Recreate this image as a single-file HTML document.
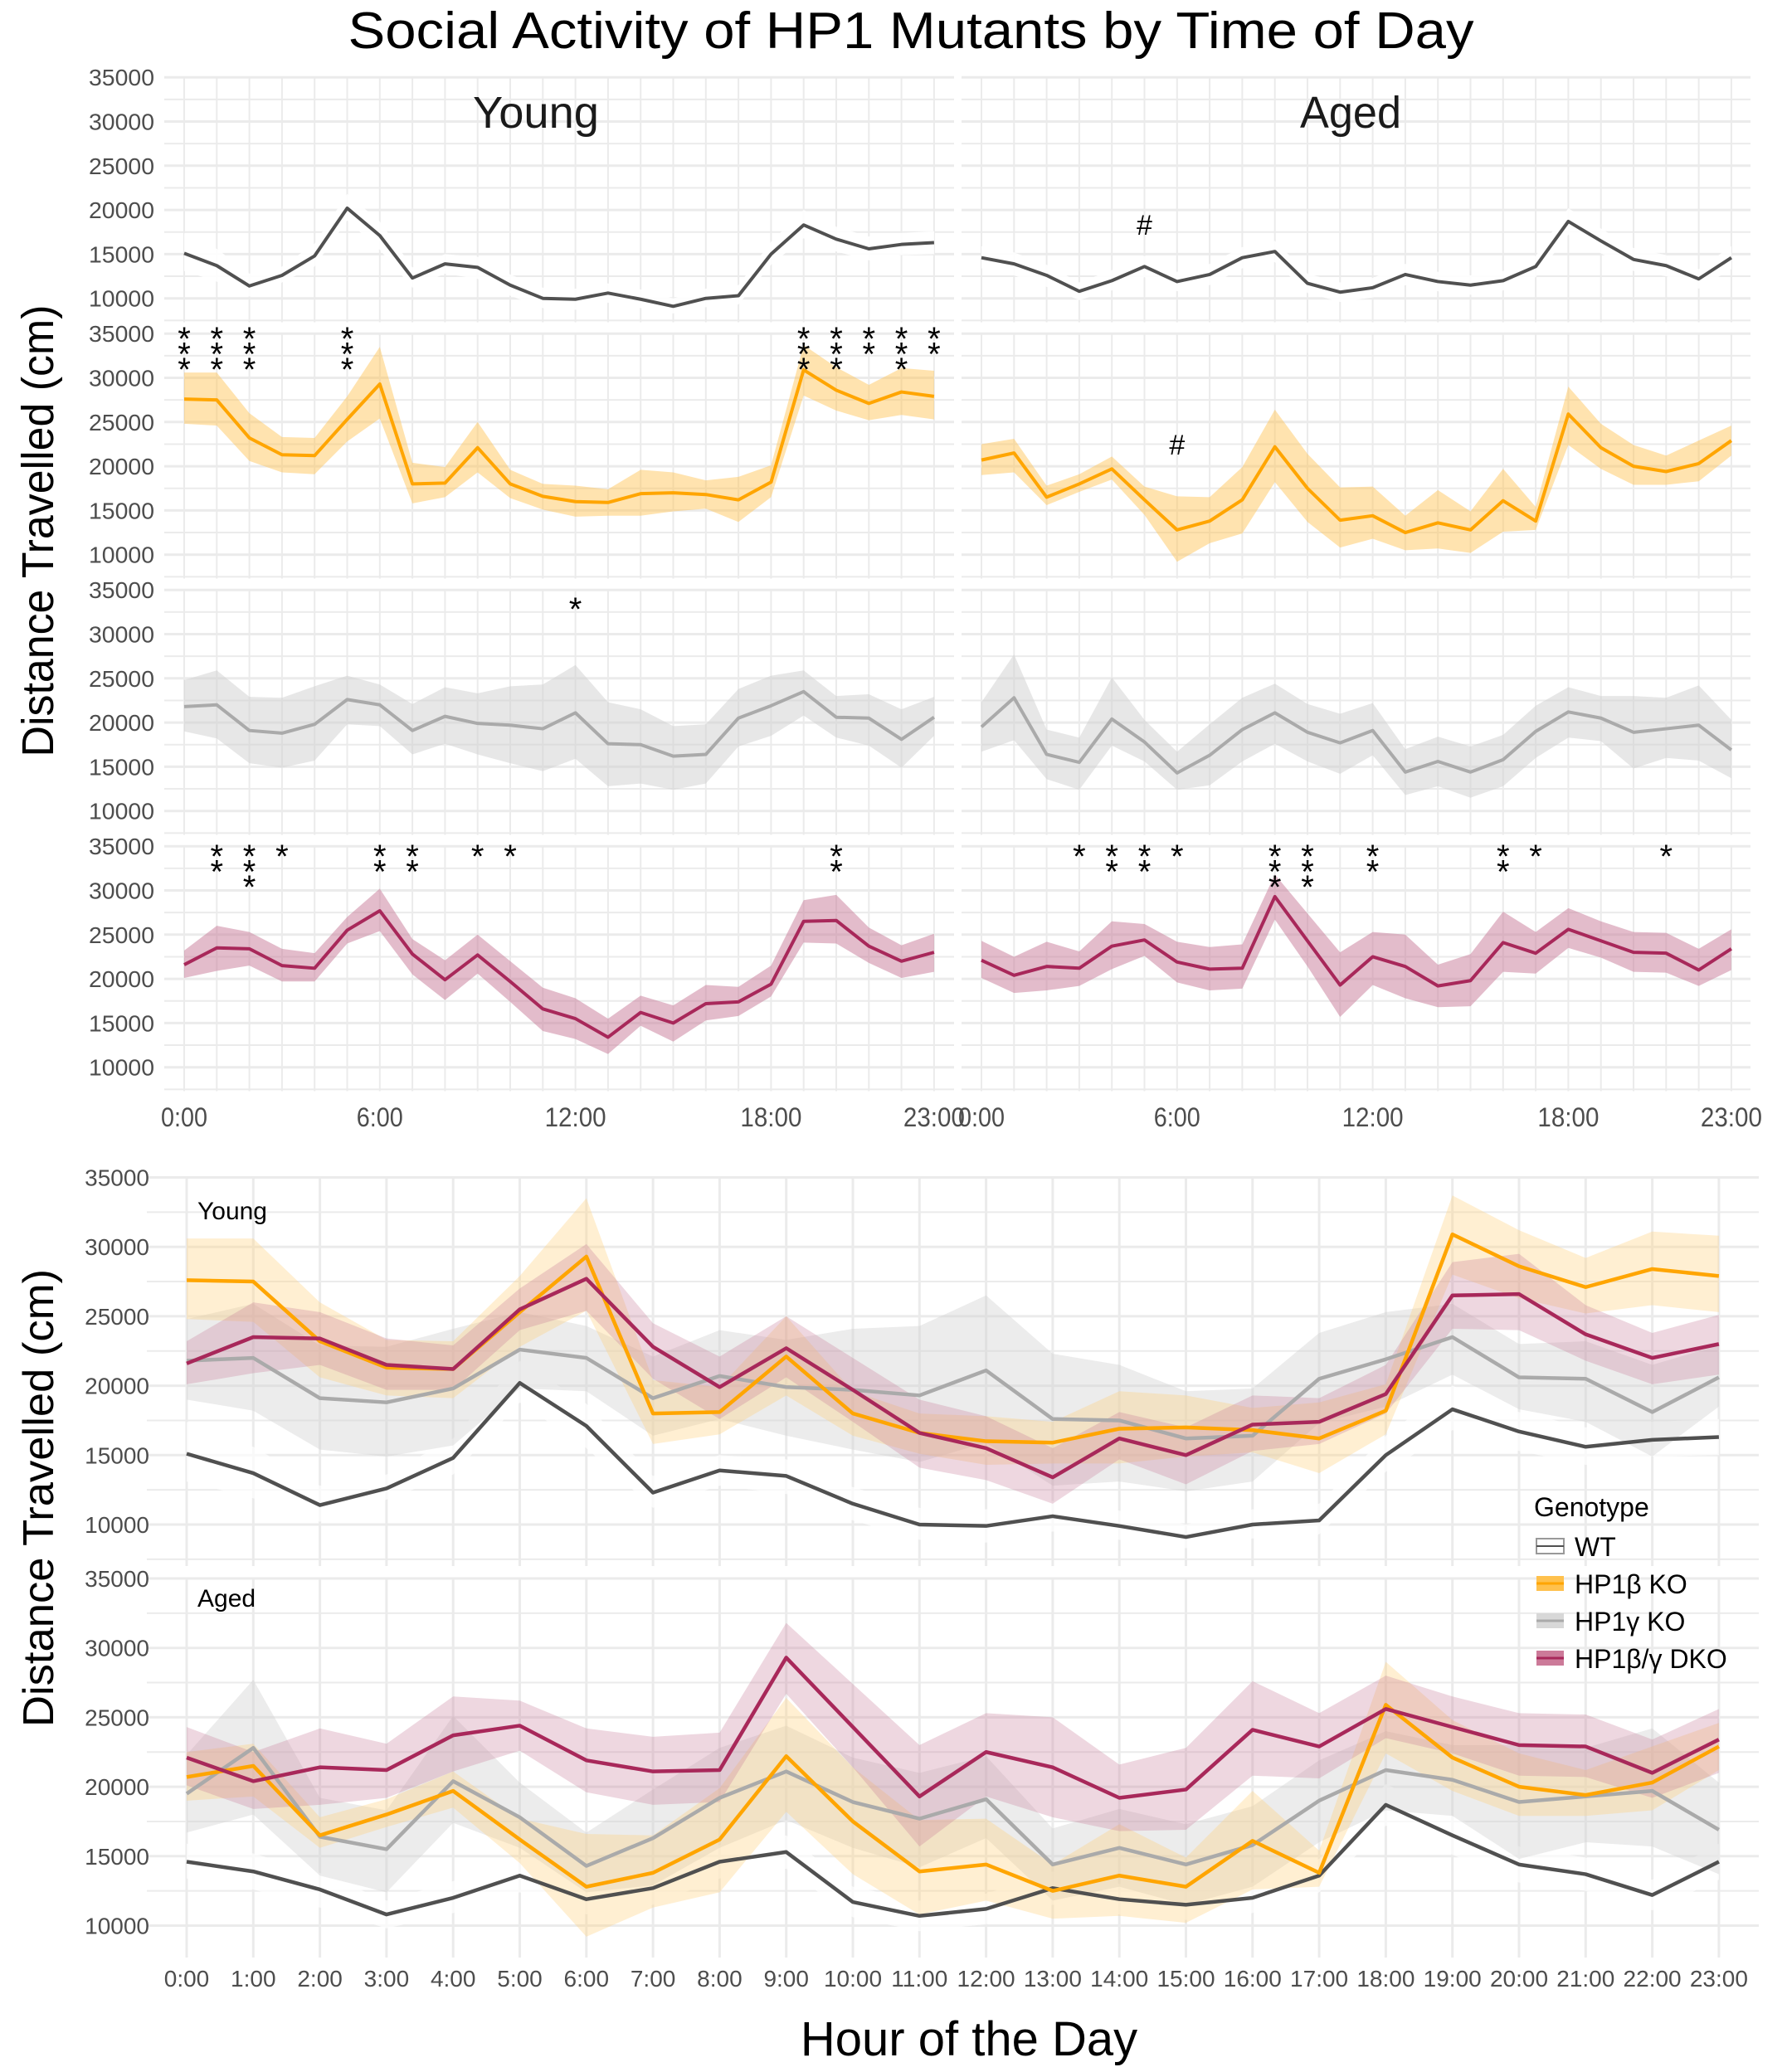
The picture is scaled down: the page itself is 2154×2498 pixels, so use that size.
<!DOCTYPE html>
<html><head><meta charset="utf-8"><style>
html,body{margin:0;padding:0;background:#fff}
svg{display:block}
text{font-family:"Liberation Sans",sans-serif}
</style></head><body>
<svg id="chart" width="2154" height="2498" viewBox="0 0 2154 2498" xmlns="http://www.w3.org/2000/svg">
<rect width="2154" height="2498" fill="#fff"/>
<text x="1098" y="58" font-size="62" text-anchor="middle" textLength="1357" lengthAdjust="spacingAndGlyphs" fill="#000">Social Activity of HP1 Mutants by Time of Day</text>
<g id="top"></g>
<g id="bottom"></g>
<text transform="translate(64,640) rotate(-90)" font-size="54" text-anchor="middle" textLength="545" lengthAdjust="spacingAndGlyphs">Distance Travelled (cm)</text>
<text transform="translate(64,1806) rotate(-90)" font-size="52" text-anchor="middle" textLength="552" lengthAdjust="spacingAndGlyphs">Distance Travelled (cm)</text>
<text x="1168" y="2478" font-size="58" text-anchor="middle">Hour of the Day</text>
<g>
<text x="1849" y="1828" font-size="32">Genotype</text>
<g><rect x="1852" y="1855" width="33" height="18" fill="#fff" stroke="#999" stroke-width="2"/><line x1="1852" y1="1864" x2="1885" y2="1864" stroke="#505050" stroke-width="2"/><text x="1898" y="1876" font-size="32">WT</text></g>
<g><rect x="1852" y="1900" width="33" height="18" fill="#FFC14D"/><line x1="1852" y1="1909" x2="1885" y2="1909" stroke="#FFA500" stroke-width="3"/><text x="1898" y="1921" font-size="32">HP1β KO</text></g>
<g><rect x="1852" y="1945" width="33" height="18" fill="#d8d8d8"/><line x1="1852" y1="1954" x2="1885" y2="1954" stroke="#aaa" stroke-width="3"/><text x="1898" y="1966" font-size="32">HP1γ KO</text></g>
<g><rect x="1852" y="1990" width="33" height="18" fill="#cc7a99"/><line x1="1852" y1="1999" x2="1885" y2="1999" stroke="#A8285A" stroke-width="3"/><text x="1898" y="2011" font-size="32">HP1β/γ DKO</text></g>
</g>
</svg>
<script>
const hours = [0,1,2,3,4,5,6,7,8,9,10,11,12,13,14,15,16,17,18,19,20,21,22,23];
const yTicks = [10000,15000,20000,25000,30000,35000];
const topXTicks = [0,6,12,18,23];
const bottomXLabels = ["0:00","1:00","2:00","3:00","4:00","5:00","6:00","7:00","8:00","9:00","10:00","11:00","12:00","13:00","14:00","15:00","16:00","17:00","18:00","19:00","20:00","21:00","22:00","23:00"];
// Young
const youngWT = [15100,13700,11400,12600,14800,20200,17100,12300,13900,13500,11500,10000,9900,10600,9900,9100,10000,10300,15000,18300,16700,15600,16100,16300];
const youngWTLo = [13100,11900,10200,11800,13600,18800,15500,11200,12800,12200,10300,8900,8700,9500,8900,8300,9000,9300,13800,16800,15300,14300,14900,15000];
const youngWTHi = [17400,15600,12800,13600,16200,21800,18700,13500,15000,14700,12700,11200,11100,11700,11000,10000,11100,11500,16400,20000,18100,17000,17400,17600];
const youngB = [27600,27500,23200,21300,21200,25300,29300,18000,18100,22100,18000,16600,16000,15900,16900,17000,16800,16200,18200,30900,28600,27100,28400,27900];
const youngBLo = [24800,24600,20600,19300,19100,22800,25400,15800,16500,19300,16400,15100,14300,14400,14400,14900,15200,13700,16500,28000,26300,25200,25800,25300];
const youngBHi = [30600,30600,26000,23300,23200,27900,33500,20400,19900,25000,19600,18000,17800,17400,19600,19300,18400,18800,20100,33700,31200,29200,31100,30800];
const youngG = [21800,22000,19100,18800,19800,22600,22000,19100,20700,19900,19700,19300,21100,17600,17500,16200,16400,20500,21900,23500,20600,20500,18100,20600];
const youngGLo = [19000,18200,15400,14900,15700,19800,19600,16400,17600,16400,15400,14500,15900,12800,13100,12400,13100,17300,18500,20800,18300,17400,14900,18500];
const youngGHi = [24800,25900,22900,22800,24100,25300,24300,22100,24000,23300,24100,24300,26500,22300,21500,19600,19800,23800,25300,25900,23000,23200,21500,22900];
const youngD = [21600,23500,23400,21500,21200,25500,27700,22800,19900,22700,19700,16600,15500,13400,16200,15000,17200,17400,19400,26500,26600,23700,22000,23000];
const youngDLo = [20100,20900,21500,19700,19700,24000,25400,20500,17600,20600,17400,14100,13200,11500,14700,12900,15300,15800,18000,24100,24000,21800,20100,20800];
const youngDHi = [23200,26000,25300,23400,22900,27000,30200,24500,22100,25000,22000,19000,17800,15500,18100,17000,19300,19100,21500,28900,29500,25800,23800,25100];
// Aged
const agedWT = [14600,13900,12600,10800,12000,13600,11900,12700,14600,15300,11700,10700,11200,12700,11900,11500,12000,13600,18700,16500,14400,13700,12200,14600];
const agedWTLo = [13400,12600,11300,9800,10900,12400,10800,11500,13400,14100,10600,9600,10100,11500,10800,10400,10900,12400,17200,15100,13100,12500,11100,13300];
const agedWTHi = [15900,15200,13800,11800,13200,14800,13000,13900,15800,16500,12800,11800,12300,13900,13000,12600,13100,14800,20200,17900,15700,14900,13300,15900];
const agedB = [20700,21500,16500,18000,19700,16200,12800,13800,16200,22200,17500,13900,14400,12500,13600,12800,16100,13800,25900,22100,20000,19400,20300,22900];
const agedBLo = [19000,19300,15600,17100,18500,14500,9200,11300,12400,18200,13700,10800,11800,10500,10700,10200,12600,12800,22400,19700,17900,17900,18300,21200];
const agedBHi = [22500,23100,17800,19100,21100,17700,16600,16500,19900,26400,21400,17600,17700,14400,17300,14900,19700,15400,29000,24800,22400,21200,22900,24600];
const agedG = [19500,22800,16400,15500,20400,17800,14300,16300,19200,21100,18900,17700,19100,14400,15600,14400,15800,19000,21200,20500,18900,19300,19700,16900];
const agedGLo = [16700,18000,13600,12400,17400,15600,12400,12900,15600,17600,15600,14200,16300,11800,12800,11500,12800,16000,18300,17900,14800,16000,15700,13700];
const agedGHi = [22300,27700,19200,18300,25100,20300,16700,19800,22800,24400,22100,21000,22200,17000,18400,17300,18600,21900,24000,23000,23000,22800,24200,20300];
const agedD = [22100,20400,21400,21200,23700,24400,21900,21100,21200,29300,24300,19300,22500,21400,19200,19800,24100,22900,25600,24300,23000,22900,21000,23400];
const agedDLo = [20100,18400,18700,19200,21100,22600,19600,18700,18900,26700,21400,15700,19300,17800,16800,16900,20800,20600,23500,22400,20800,20700,19200,21000];
const agedDHi = [24300,22500,24200,23100,26500,26200,24200,23600,23900,31800,27400,23000,25300,25000,21600,22800,27600,25300,28000,26500,25300,25200,23400,25600];
// significance marks (count of symbols per hour)
const youngBStars = [3,3,3,0,0,3,0,0,0,0,0,0,0,0,0,0,0,0,0,3,3,2,3,2];
const youngGStars = [0,0,0,0,0,0,0,0,0,0,0,0,1,0,0,0,0,0,0,0,0,0,0,0];
const youngDStars = [0,2,3,1,0,0,2,2,0,1,1,0,0,0,0,0,0,0,0,0,2,0,0,0];
const agedDStars = [0,0,0,1,2,2,1,0,0,3,3,0,2,0,0,0,2,1,0,0,0,1,0,0];
const agedWTHash = [0,0,0,0,0,1,0,0,0,0,0,0,0,0,0,0,0,0,0,0,0,0,0,0];
const agedBHash = [0,0,0,0,0,0,1,0,0,0,0,0,0,0,0,0,0,0,0,0,0,0,0,0];

const NS='http://www.w3.org/2000/svg';
function mk(tag,attrs,parent){const e=document.createElementNS(NS,tag);for(const k in attrs)e.setAttribute(k,attrs[k]);parent.appendChild(e);return e;}

const series = {
 young:[[youngWT,youngWTLo,youngWTHi],[youngB,youngBLo,youngBHi],[youngG,youngGLo,youngGHi],[youngD,youngDLo,youngDHi]],
 aged:[[agedWT,agedWTLo,agedWTHi],[agedB,agedBLo,agedBHi],[agedG,agedGLo,agedGHi],[agedD,agedDLo,agedDHi]]
};
const names=['wt','hp1b-ko','hp1g-ko','hp1bg-dko'];
const lineCol=['#505050','#FFA500','#AAAAAA','#A8285A'];
const fillTop=['#ffffff','#FFC14D','#d0d0d0','#c77a98'];
const fillTopOp=[0.9,0.45,0.5,0.5];
const fillBot=['#ffffff','#FFD27F','#d0d0d0','#c77a98'];
const fillBotOp=[0.7,0.35,0.4,0.3];

function ribbon(g,xf,yf,lo,hi,fill,op,name){
 let d='';
 hours.forEach((h,i)=>{d+=(i?'L':'M')+xf(h)+','+yf(hi[i]);});
 for(let i=hours.length-1;i>=0;i--)d+='L'+xf(hours[i])+','+yf(lo[i]);
 const p=mk('path',{d:d+'Z',fill:fill,'fill-opacity':op},g);
 
 
}
function line(g,xf,yf,v,col,w,name){
 const pts=hours.map((h,i)=>xf(h)+','+yf(v[i])).join(' ');
 const p=mk('polyline',{points:pts,fill:'none',stroke:col,'stroke-width':w,'stroke-linejoin':'round'},g);
 
 
}

// ---------- top facets ----------
const topG=document.getElementById('top');
const facetX0={young:222,aged:1183};
const facetGrid={young:[198,1150],aged:[1159,2110]};
const hourW=39.3;
const rowTop=[93.2,402.2,711.2,1020.2];
const pxPer=53.3/5000;
['young','aged'].forEach(age=>{
 const xf=h=>facetX0[age]+h*hourW;
 for(let r=0;r<4;r++){
  const g=mk('g',{},topG);
  
  
  const yf=v=>rowTop[r]+(35000-v)*pxPer;
  const gb=yf(7300);
  for(let v=7500;v<=35000;v+=2500){
   mk('line',{x1:facetGrid[age][0],x2:facetGrid[age][1],y1:yf(v),y2:yf(v),stroke:'#ebebeb','stroke-width':v%5000===0?3:2},g);
  }
  hours.forEach(h=>mk('line',{x1:xf(h),x2:xf(h),y1:yf(35000),y2:gb,stroke:'#ebebeb','stroke-width':2},g));
  if(age==='young'){
   yTicks.forEach(t=>{
    const tx=mk('text',{x:186,y:yf(t)+10,'font-size':28,'text-anchor':'end',fill:'#4d4d4d',textLength:79,lengthAdjust:'spacingAndGlyphs'},g);
    tx.textContent=t;
    
    
   });
  }
  const s=series[age][r];
  ribbon(g,xf,yf,s[1],s[2],fillTop[r],fillTopOp[r],'ribbon-'+age+'-'+names[r]);
  line(g,xf,yf,s[0],lineCol[r],4,'line-'+age+'-'+names[r]);
 }
 // strip label
 const st=mk('text',{x:age==='young'?646:1628,y:154,'font-size':54,'text-anchor':'middle',fill:'#1a1a1a',textLength:age==='young'?152:122,lengthAdjust:'spacingAndGlyphs'},topG);
 st.textContent=age==='young'?'Young':'Aged';
 
 
 topXTicks.forEach(h=>{
  const t=mk('text',{x:xf(h),y:1358,'font-size':32,'text-anchor':'middle',fill:'#4d4d4d',textLength:(h>=10?74:56),lengthAdjust:'spacingAndGlyphs'},topG);
  t.textContent=h+':00';
  
  
 });
});
// annotations
function marks(arr,age,topY,sym,fs){
 const xf=h=>facetX0[age]+h*hourW;
 arr.forEach((n,h)=>{
  for(let k=0;k<n;k++){
   const t=mk('text',{x:xf(h),y:topY+k*18.5+20,'font-size':fs,'text-anchor':'middle',fill:'#000'},topG);
   t.textContent=sym;
   
   
  }
 });
}
marks(youngBStars,'young',402,'*',40);
marks(youngGStars,'young',728,'*',40);
marks(youngDStars,'young',1026,'*',40);
marks(agedDStars,'aged',1026,'*',40);
marks(agedWTHash,'aged',263,'#',34);
marks(agedBHash,'aged',528,'#',34);

// ---------- bottom combined ----------
const botG=document.getElementById('bottom');
const bx0=225, bHour=80.3, bPx=16.74/1000;
const bTop={young:1419.5,aged:1903};
const bBottom={young:1888,aged:2360};
['young','aged'].forEach(age=>{
 const g=mk('g',{},botG);
 
 
 const xf=h=>bx0+h*bHour;
 const yf=v=>bTop[age]+(35000-v)*bPx;
 for(let v=7500;v<=35000;v+=2500){
  if(yf(v)>bBottom[age])continue;
  mk('line',{x1:177,x2:2120,y1:yf(v),y2:yf(v),stroke:'#ebebeb','stroke-width':v%5000===0?3:2},g);
 }
 hours.forEach(h=>mk('line',{x1:xf(h),x2:xf(h),y1:yf(35000),y2:bBottom[age],stroke:'#ebebeb','stroke-width':3},g));
 yTicks.forEach(t=>{
  const tx=mk('text',{x:180,y:yf(t)+10,'font-size':28,'text-anchor':'end',fill:'#4d4d4d'},g);
  tx.textContent=t;
  
  
 });
 const order=[0,2,1,3];
 order.forEach(r=>{const s=series[age][r];ribbon(g,xf,yf,s[1],s[2],fillBot[r],fillBotOp[r],'combined-ribbon-'+age+'-'+names[r]);});
 order.forEach(r=>{const s=series[age][r];line(g,xf,yf,s[0],lineCol[r],4.5,'combined-line-'+age+'-'+names[r]);});
 const lab=mk('text',{x:238,y:age==='young'?1470:1937,'font-size':30,fill:'#000'},g);
 lab.textContent=age==='young'?'Young':'Aged';
 
 
});
bottomXLabels.forEach((l,i)=>{
 const t=mk('text',{x:bx0+hours[i]*bHour,y:2395,'font-size':28,'text-anchor':'middle',fill:'#4d4d4d'},botG);
 t.textContent=l;
 
 
});
</script>
</body></html>
